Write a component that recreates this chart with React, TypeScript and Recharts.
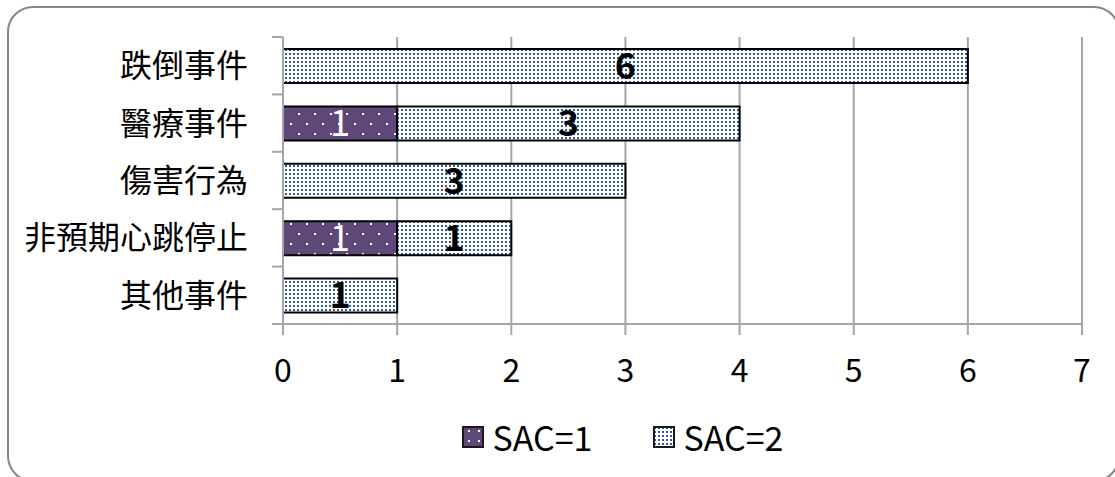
import { BarChart, Bar, XAxis, YAxis, CartesianGrid, Legend, LabelList } from 'recharts';

const categories = ['跌倒事件', '醫療事件', '傷害行為', '非預期心跳停止', '其他事件'];
const sac1 = [0, 1, 0, 1, 0];
const sac2 = [6, 3, 3, 1, 1];
const xTicks = [0, 1, 2, 3, 4, 5, 6, 7];

const data = categories.map((name, i) => ({ name, sac1: sac1[i], sac2: sac2[i] }));

const W = 1115;
const H = 477;
const MARGIN = { top: 37, right: 33, left: 0, bottom: 43 };
const Y_W = 283;
const X_H = 60;
const PLOT_H = H - MARGIN.top - MARGIN.bottom - X_H - 50;
const BAND = PLOT_H / categories.length;
const GRID = '#a6a6a6';
const FONT = '"Noto Sans CJK TC", "Noto Sans", sans-serif';

const hideZero = (v: unknown) => (v ? String(v) : '');

const CategoryTick = (props: any) => {
  const { x, y, payload, index } = props;
  const last = index === categories.length - 1;
  return (
    <g>
      <line x1={x - 11} x2={x} y1={y - BAND / 2} y2={y - BAND / 2} stroke={GRID} strokeWidth={2} />
      {last && <line x1={x - 11} x2={x} y1={y + BAND / 2} y2={y + BAND / 2} stroke={GRID} strokeWidth={2} />}
      <text x={x - 35} y={y} dy="0.36em" textAnchor="end" fontSize={32} fill="#000" fontFamily={FONT}>
        {payload.value}
      </text>
    </g>
  );
};

const Swatch = ({ kind }: { kind: string }) => (
  <svg width={22} height={22} style={{ display: 'block' }}>
    <defs>
      <pattern id={`lg-${kind}`} patternUnits="userSpaceOnUse" width={kind === 'sac1' ? 10 : 4} height={kind === 'sac1' ? 10 : 4}>
        {kind === 'sac1' ? (
          <>
            <rect width={10} height={10} fill="#5f497a" />
            <rect x={6} y={4} width={2} height={2} fill="#fff" />
          </>
        ) : (
          <>
            <rect width={4} height={4} fill="#fff" />
            <rect x={1} y={1} width={2} height={2} fill="#2e5b9b" />
          </>
        )}
      </pattern>
    </defs>
    <rect x={1} y={1} width={20} height={20} fill={`url(#lg-${kind})`} stroke="#1a1a1a" strokeWidth={2} />
  </svg>
);

const LegendContent = (props: any) => {
  const items = props.payload || [];
  return (
    <div style={{ display: 'flex', justifyContent: 'center', alignItems: 'center', gap: 60, height: 50, paddingLeft: 130, fontFamily: FONT }}>
      {items.map((it: any) => (
        <div key={it.dataKey} style={{ display: 'flex', alignItems: 'center', gap: 9 }}>
          <Swatch kind={it.dataKey} />
          <span style={{ fontSize: 34, color: '#000', lineHeight: '50px' }}>{it.value}</span>
        </div>
      ))}
    </div>
  );
};

export default function App() {
  return (
    <div style={{ position: 'absolute', left: 0, top: 0, width: W, height: H, overflow: 'hidden', background: '#fff' }}>
      <div
        style={{
          position: 'absolute',
          left: 7,
          top: 6,
          width: 1113,
          height: 476,
          border: '2px solid #868686',
          borderRadius: 26,
          boxSizing: 'border-box',
        }}
      />
      <div style={{ position: 'absolute', left: 0, top: 0 }}>
        <BarChart width={W} height={H} data={data} layout="vertical" margin={MARGIN} barSize={34}>
          <defs>
            <pattern id="p-sac1" patternUnits="userSpaceOnUse" width={16} height={20}>
              <rect width={16} height={20} fill="#5f497a" />
              <rect x={2} y={3} width={2} height={2} fill="#fff" />
              <rect x={10} y={13} width={2} height={2} fill="#fff" />
            </pattern>
            <pattern id="p-sac2" patternUnits="userSpaceOnUse" width={4} height={4}>
              <rect width={4} height={4} fill="#fff" />
              <rect x={1} y={1} width={2} height={2} fill="#2e5b9b" />
            </pattern>
          </defs>
          <CartesianGrid horizontal={false} stroke={GRID} strokeWidth={2} />
          <XAxis
            type="number"
            domain={[0, 7]}
            ticks={xTicks}
            height={X_H}
            axisLine={{ stroke: GRID, strokeWidth: 2 }}
            tickLine={{ stroke: GRID, strokeWidth: 2 }}
            tickSize={11}
            tickMargin={24}
            tick={{ fontSize: 32, fill: '#000', fontFamily: FONT }}
          />
          <YAxis
            type="category"
            dataKey="name"
            width={Y_W}
            axisLine={{ stroke: GRID, strokeWidth: 2 }}
            tickLine={false}
            tickSize={0}
            tickMargin={0}
            tick={<CategoryTick />}
            interval={0}
          />
          <Legend
            content={<LegendContent />}
            verticalAlign="bottom"
            height={50}
            wrapperStyle={{ top: 412, bottom: 'auto', left: 0, width: W }}
          />
          <Bar dataKey="sac1" name="SAC=1" stackId="a" fill="url(#p-sac1)" stroke="#000" strokeWidth={2} isAnimationActive={false}>
            <LabelList dataKey="sac1" position="center" formatter={hideZero} fill="#fff" fontSize={36} fontFamily={FONT} />
          </Bar>
          <Bar dataKey="sac2" name="SAC=2" stackId="a" fill="url(#p-sac2)" stroke="#000" strokeWidth={2} isAnimationActive={false}>
            <LabelList dataKey="sac2" position="center" formatter={hideZero} fill="#000" fontSize={36} fontWeight={600} fontFamily={FONT} />
          </Bar>
        </BarChart>
      </div>
    </div>
  );
}
